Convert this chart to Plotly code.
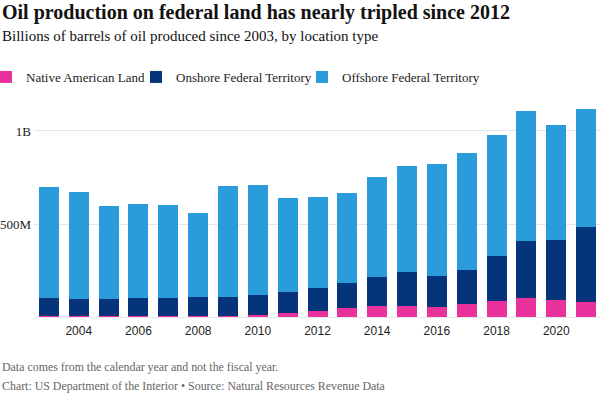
import plotly.graph_objects as go

years = list(range(2003, 2022))
native = [6, 6, 6, 6, 6, 6, 7, 12, 21, 34, 48, 59, 61, 56, 70, 86, 104, 91, 81]
onshore = [96, 92, 91, 96, 98, 100, 102, 106, 112, 124, 137, 158, 181, 166, 184, 240, 306, 325, 405]
offshore = [598, 574, 501, 504, 498, 453, 597, 593, 505, 487, 482, 534, 570, 599, 626, 651, 699, 616, 632]

series_names = ["Native American Land", "Onshore Federal Territory", "Offshore Federal Territory"]
colors = ["#E8319A", "#05347A", "#2A9BDB"]

y_tickvals = [500, 1000]
y_ticktext = ["500M", "1B"]

W, H = 608, 399
L, R, T, B = 34, 7, 107, 82
pw = W - L - R
ph = H - T - B

def px_x(p):
    return (p - L) / pw

def px_y(p):
    return (H - B - p) / ph

serif = "Liberation Serif, Times New Roman, serif"
sans = "Liberation Sans, Arial, sans-serif"

fig = go.Figure()
legend_ids = ["legend", "legend2", "legend3"]
legend_sq = [0, 150, 316]  # left edge of each legend square, in pixels
for name, vals, c, lid in zip(series_names, [native, onshore, offshore], colors, legend_ids):
    fig.add_trace(go.Bar(x=years, y=vals, name=name, legend=lid,
                         marker=dict(color=c, line=dict(width=0))))

legend_common = dict(
    orientation="h", xanchor="left", yanchor="middle", y=px_y(77),
    font=dict(family=serif, size=13, color="#222"),
    itemwidth=30, bgcolor="rgba(0,0,0,0)", borderwidth=0,
)
leg = {}
for lid, sx in zip(legend_ids, legend_sq):
    leg[lid] = dict(legend_common, x=px_x(sx - 14))

fig.update_layout(
    width=W, height=H,
    margin=dict(l=L, r=R, t=T, b=B, autoexpand=False),
    barmode="stack",
    bargap=0.33,
    plot_bgcolor="white",
    paper_bgcolor="white",
    font=dict(family=serif, size=13, color="#222"),
    showlegend=True,
    **leg,
    xaxis=dict(
        range=[2002.5, 2021.5], tickmode="linear", tick0=2004, dtick=2,
        showgrid=False, zeroline=False, showline=False, ticks="",
        tickfont=dict(family=sans, size=12, color="#222"),
        ticklabelstandoff=5,
        automargin=False, fixedrange=True,
    ),
    yaxis=dict(
        range=[0, 1129], tickvals=y_tickvals, ticktext=y_ticktext,
        showgrid=True, gridcolor="#e6e6e6", gridwidth=1,
        zeroline=True, zerolinecolor="#e6e6e6", zerolinewidth=1,
        showline=False, ticks="",
        tickfont=dict(family=serif, size=13, color="#222"),
        ticklabelstandoff=2,
        automargin=False, fixedrange=True,
    ),
    annotations=[
        dict(text="<b>Oil production on federal land has nearly tripled since 2012</b>",
             xref="paper", yref="paper", x=px_x(0), y=px_y(12), xanchor="left", yanchor="middle",
             showarrow=False, font=dict(family=serif, size=20, color="#111")),
        dict(text="Billions of barrels of oil produced since 2003, by location type",
             xref="paper", yref="paper", x=px_x(0), y=px_y(36), xanchor="left", yanchor="middle",
             showarrow=False, font=dict(family=serif, size=15, color="#111")),
        dict(text="Data comes from the calendar year and not the fiscal year.",
             xref="paper", yref="paper", x=px_x(0), y=px_y(367), xanchor="left", yanchor="middle",
             showarrow=False, font=dict(family=serif, size=11.9, color="#666")),
        dict(text="Chart: US Department of the Interior • Source: Natural Resources Revenue Data",
             xref="paper", yref="paper", x=px_x(0), y=px_y(386), xanchor="left", yanchor="middle",
             showarrow=False, font=dict(family=serif, size=11.9, color="#666")),
    ],
)

fig.write_html("out.html", config={"displayModeBar": False},
               post_script="document.body.style.margin='0px';")
